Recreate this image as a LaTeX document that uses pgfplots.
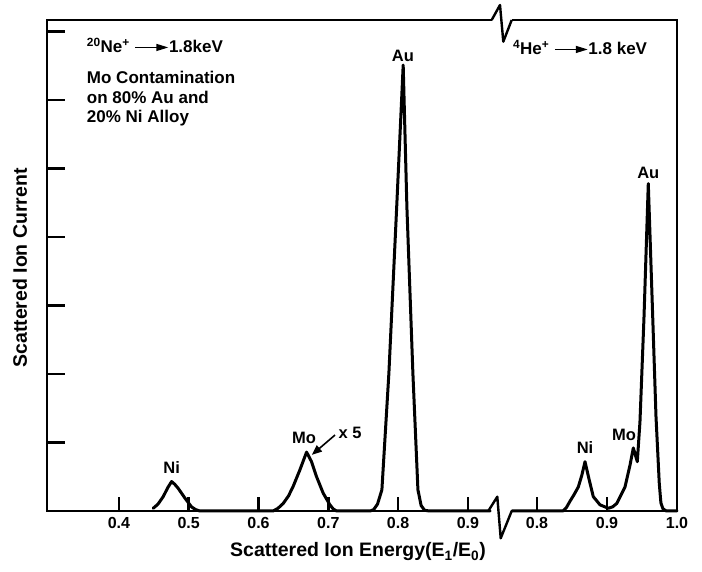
\documentclass[border=0pt]{standalone}
\usepackage{fontspec}
\setmainfont{Liberation Sans}
\usepackage{pgfplots}
\pgfplotsset{compat=1.18}
\usetikzlibrary{arrows.meta}
\newcommand\lbl{\fontsize{17}{19.5}\selectfont\bfseries}
\newcommand\pk{\fontsize{16.5}{18}\selectfont\bfseries}
\newcommand\harrow{\tikz[baseline=-0.55ex]\draw[line width=1.4pt,-{Triangle[length=12pt,width=7pt]}] (0,0)--(33pt,0);}
\begin{document}
\begin{tikzpicture}[x=1pt,y=1pt]
\useasboundingbox (0,0) rectangle (702,572);
\pgfplotsset{
  brk/.style={
    anchor=south west, y=68.5pt, ymin=0, ymax=7.168,
    axis line style={draw=none}, clip=false,
    tick align=inside, xtick pos=left, ytick pos=left,
    major tick length=14pt,
    every tick/.style={line width=2.6pt, black},
    ticklabel style={font=\fontsize{16}{16}\selectfont\bfseries},
    /pgf/number format/assume math mode=true,
    /pgf/number format/fixed, /pgf/number format/fixed zerofill,
    /pgf/number format/precision=1,
    xticklabel style={yshift=-3pt},
  },
  curve/.style={black, line width=3pt, line join=round, line cap=round, mark=none},
}
% left segment: 20Ne+
\begin{axis}[brk, at={(47pt,61pt)}, x=698pt, xmin=0.297, xmax=0.9317,
  xtick={0.4,0.5,0.6,0.7,0.8,0.9}, ytick=\empty,
  xlabel={Scattered Ion Energy(E\textsubscript{1}/E\textsubscript{0})},
  xlabel style={at={(axis description cs:0.702,-0.0835)}, anchor=center, font=\fontsize{19.5}{20}\selectfont\bfseries},
  ylabel={Scattered Ion Current},
  ylabel style={at={(axis description cs:-0.061,0.495)}, anchor=center, font=\fontsize{19.5}{20}\selectfont\bfseries},
]
\addplot[curve] coordinates {
(0.4492,0.04) (0.456,0.10) (0.4635,0.21) (0.470,0.34) (0.4755,0.43) (0.480,0.39)
(0.485,0.33) (0.4945,0.19) (0.504,0.06) (0.510,0.02) (0.516,0) (0.621,0)
(0.628,0.04) (0.6354,0.11) (0.643,0.22) (0.6497,0.36) (0.6593,0.60) (0.6689,0.86)
(0.676,0.72) (0.6832,0.50) (0.6927,0.26) (0.7023,0.09) (0.707,0.03) (0.712,0)
(0.760,0) (0.765,0.02) (0.7705,0.10) (0.7768,0.31) (0.7868,2.01) (0.798,4.44)
(0.8073,6.51) (0.8126,4.44) (0.8212,2.01) (0.8284,0.31) (0.833,0.08) (0.838,0.01)
(0.845,0) (0.9317,0)
};
\node[font=\pk] at (axis cs:0.4757,0.628) {Ni};
\node[font=\pk] at (axis cs:0.6652,1.066) {Mo};
\node[font=\pk] at (axis cs:0.7311,1.139) {x 5};
\draw[line width=1.6pt,-{Triangle[length=10pt,width=8pt]}] (axis cs:0.7096,1.109) -- (axis cs:0.6765,0.82);
\node[font=\pk] at (axis cs:0.807,6.64) {Au};
\node[font=\lbl, anchor=west, inner sep=0pt] at (axis cs:0.354,6.80)
  {\textsuperscript{20}Ne\textsuperscript{+} \harrow 1.8keV};
\node[font=\lbl, anchor=north west, align=left, inner sep=0pt] at (axis cs:0.354,6.42)
  {Mo Contamination\\on 80\% Au and\\20\% Ni Alloy};
\end{axis}
% long y tick marks of the left segment
\begin{axis}[brk, at={(47pt,61pt)}, x=698pt, xmin=0.297, xmax=0.9317,
  xtick=\empty, ytick={1,2,3,4,5,6,7}, yticklabels={}, major tick length=18pt,
  every tick/.style={line width=2.2pt, black}]
\end{axis}
% right segment: 4He+
\begin{axis}[brk, at={(512pt,61pt)}, x=700pt, xmin=0.7643, xmax=1.0,
  xtick={0.8,0.9,1.0}, ytick=\empty]
\addplot[curve] coordinates {
(0.7643,0) (0.837,0) (0.842,0.05) (0.847,0.14) (0.853,0.24) (0.859,0.35) (0.864,0.52)
(0.8686,0.72) (0.8747,0.45) (0.8804,0.21) (0.89,0.09) (0.9019,0.04) (0.908,0.06)
(0.9139,0.11) (0.9257,0.35) (0.9329,0.67) (0.9376,0.92) (0.9433,0.72) (0.9471,1.3)
(0.9529,2.84) (0.959,4.78) (0.9653,2.84) (0.97,1.38) (0.9747,0.40) (0.977,0.12)
(0.98,0.03) (0.985,0) (1.0,0)
};
\node[font=\pk] at (axis cs:0.8686,0.92) {Ni};
\node[font=\pk] at (axis cs:0.9243,1.11) {Mo};
\node[font=\pk] at (axis cs:0.959,4.93) {Au};
\node[font=\lbl, anchor=west, inner sep=0pt] at (axis cs:0.7655,6.77)
  {\textsuperscript{4}He\textsuperscript{+} \harrow 1.8 keV};
\end{axis}
% frame with axis breaks
\draw[line width=2.6pt, line join=miter] (491.7,552) -- (47,552) -- (47,61) -- (488.3,61);
\draw[line width=2.4pt, line join=round] (491.7,552) -- (500,567) -- (503.3,530.3) -- (511.7,552);
\draw[line width=2.4pt, line join=round] (488.3,61) -- (497.3,75.3) -- (500.7,33.7) -- (511.7,61);
\draw[line width=2.6pt, line join=miter] (511.7,552) -- (677,552) -- (677,61) -- (511.7,61);
\end{tikzpicture}
\end{document}
